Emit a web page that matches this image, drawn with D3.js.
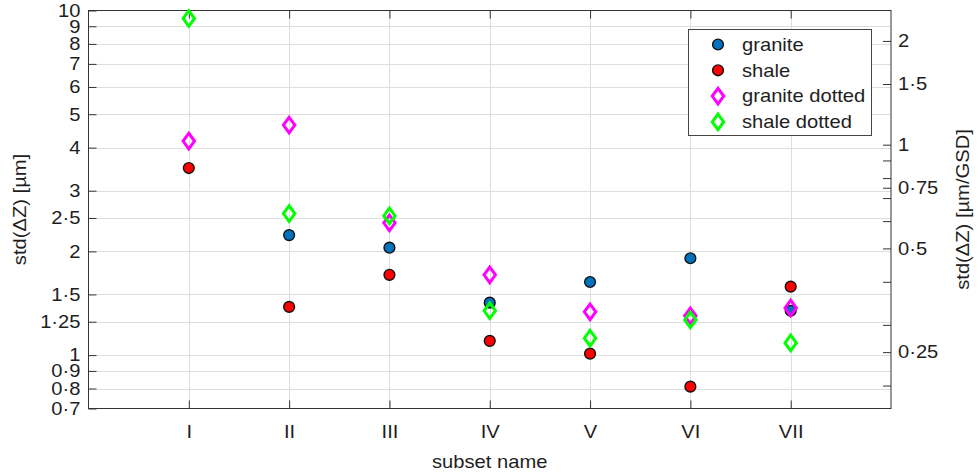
<!DOCTYPE html>
<html>
<head>
<meta charset="utf-8">
<script src="https://cdn.jsdelivr.net/npm/d3@7"></script>
<style>
  html, body { margin: 0; padding: 0; background: #fff; }
  svg { display: block; font-family: "Liberation Sans", Arial, sans-serif; }
</style>
</head>
<body>
<svg id="chart" width="978" height="475"></svg>
<script>
// Subsets along the x axis
const categories = ["I", "II", "III", "IV", "V", "VI", "VII"];

// std(ΔZ) in µm for each subset (null = no value)
const granite       = [null, 2.23, 2.05, 1.42, 1.63, 1.91, 1.345];
const shale         = [3.49, 1.38, 1.71, 1.10, 1.01, 0.81, 1.58];
const graniteDotted = [4.18, 4.65, 2.42, 1.71, 1.335, 1.30, 1.37];
const shaleDotted   = [9.48, 2.575, 2.535, 1.345, 1.12, 1.265, 1.085];

// Tick values
const leftTicks  = [0.7, 0.8, 0.9, 1, 1.25, 1.5, 2, 2.5, 3, 4, 5, 6, 7, 8, 9, 10];
const rightTicks = [0.2, 0.25, 0.3, 0.4, 0.5, 0.6, 0.7, 0.75, 0.8, 0.9, 1, 1.5, 2];
const rightLabelled = [0.25, 0.5, 0.75, 1, 1.5, 2];

// µm per GSD conversion for the right-hand axis
const gsd = 4.08;

const seriesDefs = [
  { name: "granite",        values: granite,       shape: "circle",  color: "#0072BD" },
  { name: "shale",          values: shale,         shape: "circle",  color: "#FF0000" },
  { name: "granite dotted", values: graniteDotted, shape: "diamond", color: "#FF00FF" },
  { name: "shale dotted",   values: shaleDotted,   shape: "diamond", color: "#00FF00" }
];

const svg = d3.select("#chart");
const L = 88.5, R = 891, T = 10.5, B = 408.5;
const textColor = "#1e1e1e";
const fontSize = 18;
const stretch = 1.12;               // horizontal widening of the label glyphs
const fmt = v => String(v).replace(".", "\u00B7");

const x  = d3.scaleLinear().domain([0, 8]).range([L, R]);
const yL = d3.scaleLog().domain([0.7, 10]).range([B, T]);
const yR = d3.scaleLog().domain([0.7 / gsd, 10 / gsd]).range([B, T]);

// grid
const grid = svg.append("g").attr("stroke", "#dedede").attr("stroke-width", 1);
grid.selectAll("line.h").data(leftTicks.filter(v => v > 0.7 && v < 10)).join("line")
  .attr("x1", L).attr("x2", R)
  .attr("y1", d => Math.round(yL(d)) + 0.5).attr("y2", d => Math.round(yL(d)) + 0.5);
grid.selectAll("line.v").data(categories).join("line")
  .attr("y1", T).attr("y2", B)
  .attr("x1", (d, i) => Math.round(x(i + 1)) + 0.5).attr("x2", (d, i) => Math.round(x(i + 1)) + 0.5);

function styleAxis(g) {
  g.select(".domain").remove();
  g.selectAll(".tick line").attr("stroke", "#333");
  g.selectAll(".tick text")
    .attr("fill", textColor)
    .attr("font-size", fontSize)
    .attr("font-family", "Liberation Sans, Arial, sans-serif");
}

// left axis
const gL = svg.append("g").attr("transform", `translate(${L},0)`)
  .call(d3.axisLeft(yL).tickValues(leftTicks).tickFormat(fmt).tickSize(-8).tickPadding(8));
styleAxis(gL);
gL.selectAll(".tick text").attr("transform", `scale(${stretch},1)`).attr("x", -8 / stretch);

// right axis
const gR = svg.append("g").attr("transform", `translate(${R},0)`)
  .call(d3.axisRight(yR).tickValues(rightTicks)
    .tickFormat(v => rightLabelled.includes(v) ? fmt(v) : "").tickSize(-8).tickPadding(7));
styleAxis(gR);
gR.selectAll(".tick text").attr("transform", `scale(${stretch},1)`).attr("x", 7 / stretch);

// bottom axis
const gB = svg.append("g").attr("transform", `translate(0,${B})`)
  .call(d3.axisBottom(x).tickValues(d3.range(1, 8)).tickFormat(i => categories[i - 1])
    .tickSize(-8).tickPadding(17));
styleAxis(gB);
gB.selectAll(".tick text").attr("transform", `scale(${stretch},1)`);

// top axis (ticks only)
const gT = svg.append("g").attr("transform", `translate(0,${T})`)
  .call(d3.axisTop(x).tickValues(d3.range(1, 8)).tickFormat("").tickSize(-8));
styleAxis(gT);

// frame
svg.append("rect").attr("x", L).attr("y", T).attr("width", R - L).attr("height", B - T)
  .attr("fill", "none").attr("stroke", "#333").attr("stroke-width", 1);

// axis titles
function label(txt, tx, ty, rot) {
  svg.append("text")
    .attr("transform", `translate(${tx},${ty}) rotate(${rot}) scale(${stretch},1)`)
    .attr("text-anchor", "middle").attr("dy", "0.35em")
    .attr("font-size", fontSize).attr("fill", textColor).text(txt);
}
label("subset name", (L + R) / 2, 462, 0);
label("std(\u0394Z) [\u00B5m]", 20, (T + B) / 2, -90);
label("std(\u0394Z) [\u00B5m/GSD]", 963, (T + B) / 2, -90);

// markers
const diamond = (hw, hh) => `M0,${-hh}L${hw},0L0,${hh}L${-hw},0Z`;
function drawMarker(sel, def) {
  if (def.shape === "circle") {
    sel.append("circle").attr("r", 5.4)
      .attr("fill", def.color).attr("stroke", "#111").attr("stroke-width", 1.4);
  } else {
    sel.append("path").attr("d", diamond(5.7, 7.8))
      .attr("fill", "none").attr("stroke", def.color).attr("stroke-width", 3)
      .attr("stroke-linejoin", "miter");
  }
}

const plot = svg.append("g");
seriesDefs.forEach(def => {
  const pts = def.values.map((v, i) => ({ v, i })).filter(d => d.v != null);
  plot.selectAll(null).data(pts).join("g")
    .attr("transform", d => `translate(${x(d.i + 1)},${yL(d.v)})`)
    .each(function () { drawMarker(d3.select(this), def); });
});

// legend
const lg = svg.append("g");
lg.append("rect").attr("x", 688.5).attr("y", 29.5).attr("width", 183).attr("height", 106)
  .attr("fill", "#fff").attr("stroke", "#444").attr("stroke-width", 1);
seriesDefs.forEach((def, k) => {
  const cy = 44.5 + k * 25.8;
  drawMarker(lg.append("g").attr("transform", `translate(718,${cy})`), def);
  lg.append("text")
    .attr("transform", `translate(742,${cy}) scale(${stretch},1)`)
    .attr("dy", "0.35em").attr("font-size", fontSize).attr("fill", textColor)
    .text(def.name);
});
</script>
</body>
</html>
